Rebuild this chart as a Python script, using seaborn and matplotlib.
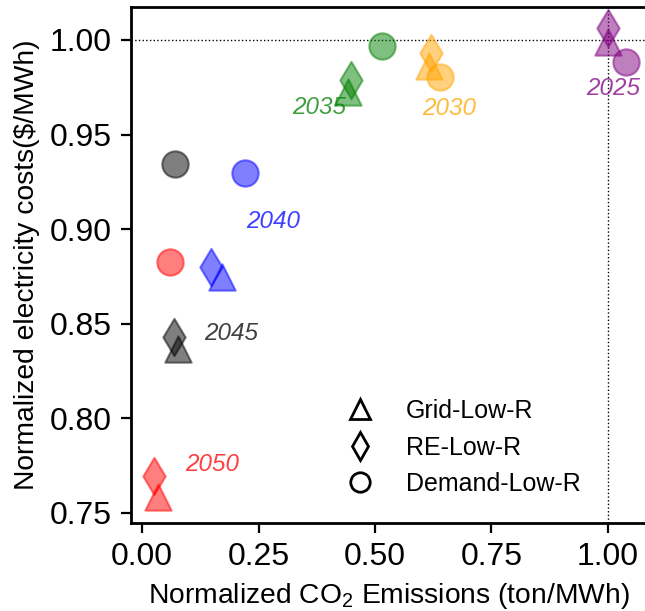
import matplotlib
matplotlib.use("Agg")
import matplotlib.pyplot as plt
import seaborn as sns
import pandas as pd
from matplotlib.lines import Line2D

# ---- data ----
years = ['2025', '2030', '2035', '2040', '2045', '2050']
year_colors = ['purple', 'orange', 'green', 'blue', 'black', 'red']
scenarios = ['Grid-Low-R', 'RE-Low-R', 'Demand-Low-R']

grid_x = [1.000, 0.617, 0.441, 0.172, 0.076, 0.035]
grid_y = [0.999, 0.9864, 0.9725, 0.8746, 0.8367, 0.7584]
re_x = [1.000, 0.621, 0.448, 0.147, 0.069, 0.026]
re_y = [1.0063, 0.993, 0.9786, 0.8802, 0.8428, 0.7697]
dem_x = [1.039, 0.640, 0.514, 0.2205, 0.0697, 0.060]
dem_y = [0.9884, 0.9803, 0.997, 0.9295, 0.9345, 0.8828]

# year label anchor points (data coords)
label_x = [1.012, 0.660, 0.380, 0.281, 0.191, 0.150]
label_y = [0.9746, 0.9640, 0.9644, 0.9043, 0.8446, 0.7754]

xticks = [0.00, 0.25, 0.50, 0.75, 1.00]
yticks = [0.75, 0.80, 0.85, 0.90, 0.95, 1.00]

rows = []
for sc, xs, ys in zip(scenarios, [grid_x, re_x, dem_x], [grid_y, re_y, dem_y]):
    for yr, xv, yv in zip(years, xs, ys):
        rows.append({'scenario': sc, 'year': yr, 'co2': xv, 'cost': yv})
df = pd.DataFrame(rows)

sns.set_theme(style='ticks')
plt.rcParams['font.family'] = ['Liberation Sans', 'DejaVu Sans']
plt.rcParams['mathtext.fontset'] = 'custom'
plt.rcParams['mathtext.rm'] = 'Liberation Sans'

fig = plt.figure(figsize=(6.45, 6.11), dpi=100)
ax = fig.add_axes([131 / 645, 1 - 523 / 611, 1.003 - 131 / 645, (523 - 7.4) / 611])

markers = {'Grid-Low-R': '^', 'RE-Low-R': 'd', 'Demand-Low-R': 'o'}
palette = dict(zip(years, year_colors))
for sc in scenarios:
    sub = df[df['scenario'] == sc]
    for yr in years:
        s2 = sub[sub['year'] == yr]
        sns.scatterplot(data=s2, x='co2', y='cost', ax=ax, marker=markers[sc],
                        color=palette[yr], edgecolor=palette[yr], s=360,
                        alpha=0.5, linewidth=1.5, legend=False, zorder=3)

for yr, c, lx, ly in zip(years, year_colors, label_x, label_y):
    ax.text(lx, ly, yr, color=c, alpha=0.75, fontsize=17.5, style='italic',
            ha='center', va='center', zorder=4)

ax.axhline(1.0, color='black', linestyle=':', linewidth=1, zorder=1)
ax.axvline(1.0, color='black', linestyle=':', linewidth=1, zorder=1)

ax.set_xlim(-0.024, 1.084)
ax.set_ylim(0.7447, 1.0172)
ax.set_xticks(xticks)
ax.set_xticklabels([f'{v:.2f}' for v in xticks])
ax.set_yticks(yticks)
ax.set_yticklabels([f'{v:.2f}' for v in yticks])
ax.tick_params(axis='both', labelsize=23, length=7.5, width=1.6, pad=6.5,
               direction='out', color='black', labelcolor='black')
for sp in ax.spines.values():
    sp.set_linewidth(2)
    sp.set_color('black')

ax.set_xlabel('Normalized CO$_2$ Emissions (ton/MWh)', fontsize=20.3, color='black', labelpad=6)
ax.set_ylabel('Normalized electricity costs($/MWh)', fontsize=20.3, color='black', labelpad=7)

handles = [Line2D([], [], linestyle='none', marker=markers[sc], markersize=14,
                  markerfacecolor='none', markeredgecolor='black', markeredgewidth=2)
           for sc in scenarios]
ax.legend(handles, scenarios, loc='center left', bbox_to_anchor=(0.376, 0.1464),
          frameon=False, fontsize=18, labelspacing=0.5, handlelength=2.0,
          handletextpad=0.84, borderaxespad=0, labelcolor='black')

fig.savefig('out.png', dpi=100)
